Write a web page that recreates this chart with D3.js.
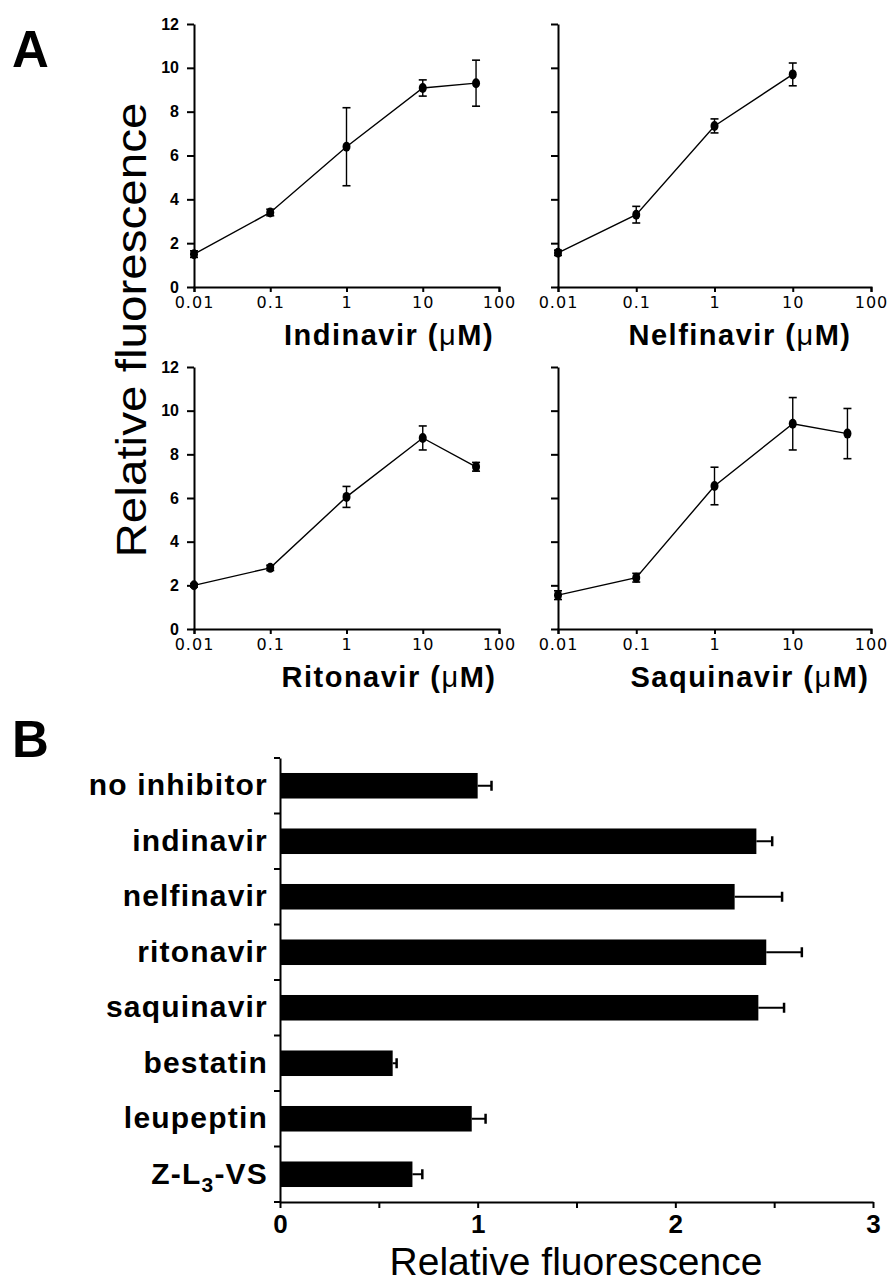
<!DOCTYPE html>
<html>
<head>
<meta charset="utf-8" />
<title>Protease inhibitors - relative fluorescence</title>
<script src="https://d3js.org/d3.v7.min.js"></script>
<style>
body { margin: 0; background: #fff; }
svg { display: block; font-family: "Liberation Sans", Arial, Helvetica, sans-serif; }
.axis path, .axis line { stroke: #000; stroke-width: 2; }
.axis text { fill: #000; }
</style>
</head>
<body>
<div id="chart"></div>
<script>
// ---- panel A: dose response, mean +/- error ----
var concentrations = [0.01, 0.1, 1, 10, 50];
var concTicks = [0.01, 0.1, 1, 10, 100];
var fluorTicks = [0, 2, 4, 6, 8, 10, 12];

var drugNames = ["Indinavir", "Nelfinavir", "Ritonavir", "Saquinavir"];
var indinavirMean = [1.5, 3.4, 6.4, 9.08, 9.3];
var indinavirErr = [0.15, 0.15, 1.78, 0.37, 1.05];
var nelfinavirMean = [1.56, 3.3, 7.35, 9.7, null];
var nelfinavirErr = [0.12, 0.38, 0.32, 0.52, null];
var ritonavirMean = [2.0, 2.8, 6.05, 8.75, 7.43];
var ritonavirErr = [0.08, 0.12, 0.48, 0.55, 0.2];
var saquinavirMean = [1.55, 2.35, 6.55, 9.4, 8.95];
var saquinavirErr = [0.2, 0.2, 0.86, 1.2, 1.15];

// ---- panel B: single dose, mean +/- error ----
var inhibitors = ["no inhibitor", "indinavir", "nelfinavir", "ritonavir", "saquinavir", "bestatin", "leupeptin", "Z-L3-VS"];
var inhibitorMean = [1.0, 2.41, 2.30, 2.46, 2.42, 0.57, 0.97, 0.67];
var inhibitorErr = [0.07, 0.08, 0.24, 0.18, 0.13, 0.02, 0.07, 0.05];
var barTicks = [0, 0.5, 1, 1.5, 2, 2.5, 3];

var width = 888;
var height = 1284;

var svg = d3.select("#chart").append("svg")
  .attr("width", width)
  .attr("height", height);

svg.append("rect").attr("width", width).attr("height", height).attr("fill", "#fff");

// layout of the four small panels
var layout = [
  { x0: 194, x1: 499, y0: 287, y1: 24, labels: true, titleX: 389, titleY: 345 },
  { x0: 558, x1: 871, y0: 287, y1: 24, labels: false, titleX: 740, titleY: 345 },
  { x0: 194, x1: 499, y0: 629, y1: 367, labels: true, titleX: 389, titleY: 687 },
  { x0: 558, x1: 871, y0: 629, y1: 367, labels: false, titleX: 750, titleY: 687 }
];
var means = [indinavirMean, nelfinavirMean, ritonavirMean, saquinavirMean];
var errs = [indinavirErr, nelfinavirErr, ritonavirErr, saquinavirErr];

function tickFmt(d) {
  return d < 1 ? String(d) : d3.format("d")(d);
}

layout.forEach(function (p, i) {
  var x = d3.scaleLog().domain([0.01, 100]).range([p.x0, p.x1]);
  var y = d3.scaleLinear().domain([0, 12]).range([p.y0, p.y1]);
  var g = svg.append("g");

  g.append("g")
    .attr("class", "axis")
    .attr("transform", "translate(0," + p.y0 + ")")
    .call(d3.axisBottom(x).tickValues(concTicks).tickFormat(tickFmt).tickSize(5).tickSizeOuter(5).tickPadding(5))
    .call(function (a) {
      a.selectAll("text").attr("font-size", 16).attr("letter-spacing", 1)
        .attr("font-family", "'DejaVu Sans', sans-serif");
    });

  g.append("g")
    .attr("class", "axis")
    .attr("transform", "translate(" + p.x0 + ",0)")
    .call(d3.axisLeft(y).tickValues(fluorTicks).tickSize(7).tickSizeOuter(0).tickPadding(8)
      .tickFormat(p.labels ? d3.format("d") : ""))
    .call(function (a) {
      a.selectAll("text").attr("font-size", 16).attr("font-weight", "bold");
    });

  var pts = concentrations.map(function (c, j) {
    return { c: c, m: means[i][j], e: errs[i][j] };
  }).filter(function (d) { return d.m !== null; });

  var line = d3.line().x(function (d) { return x(d.c); }).y(function (d) { return y(d.m); });

  g.append("path")
    .datum(pts)
    .attr("d", line)
    .attr("fill", "none")
    .attr("stroke", "#000")
    .attr("stroke-width", 1.4);

  var eb = g.selectAll(".eb").data(pts).join("g").attr("class", "eb");
  eb.append("line")
    .attr("x1", function (d) { return x(d.c); })
    .attr("x2", function (d) { return x(d.c); })
    .attr("y1", function (d) { return y(d.m - d.e); })
    .attr("y2", function (d) { return y(d.m + d.e); })
    .attr("stroke", "#000").attr("stroke-width", 1.4);
  [-1, 1].forEach(function (s) {
    eb.append("line")
      .attr("x1", function (d) { return x(d.c) - 4; })
      .attr("x2", function (d) { return x(d.c) + 4; })
      .attr("y1", function (d) { return y(d.m + s * d.e); })
      .attr("y2", function (d) { return y(d.m + s * d.e); })
      .attr("stroke", "#000").attr("stroke-width", 1.6);
  });
  eb.append("ellipse")
    .attr("cx", function (d) { return x(d.c); })
    .attr("cy", function (d) { return y(d.m); })
    .attr("rx", 4).attr("ry", 5)
    .attr("fill", "#000");

  var t = g.append("text")
    .attr("x", p.titleX)
    .attr("y", p.titleY)
    .attr("text-anchor", "middle")
    .attr("font-size", 29)
    .attr("font-weight", "bold")
    .attr("letter-spacing", 1.5);
  t.append("tspan").text(drugNames[i] + " (");
  t.append("tspan").attr("font-weight", "normal").text("\u03bc");
  t.append("tspan").text("M)");
});

// shared y title for panel A
svg.append("text")
  .attr("transform", "translate(146,330) rotate(-90)")
  .attr("text-anchor", "middle")
  .attr("font-size", 42)
  .attr("textLength", 455)
  .attr("lengthAdjust", "spacingAndGlyphs")
  .text("Relative fluorescence");

svg.append("text").attr("x", 12).attr("y", 67).attr("font-size", 51).attr("font-weight", "bold").text("A");
svg.append("text").attr("x", 12).attr("y", 757).attr("font-size", 51).attr("font-weight", "bold").text("B");

// ---- panel B ----
var bx = d3.scaleLinear().domain([0, 3]).range([280, 873]);
var by = d3.scaleBand().domain(inhibitors).range([758, 1202]);
var barH = by.bandwidth() * 0.46;

var gb = svg.append("g");

gb.append("g")
  .attr("class", "axis")
  .attr("transform", "translate(0,1202)")
  .call(d3.axisBottom(bx).tickValues(barTicks).tickSize(6).tickSizeOuter(0).tickPadding(7)
    .tickFormat(function (d) { return d % 1 === 0 ? d : ""; }))
  .call(function (a) {
    a.selectAll("text").attr("font-size", 26).attr("font-weight", "bold");
  });

gb.append("g")
  .attr("class", "axis")
  .attr("transform", "translate(280,0)")
  .call(d3.axisLeft(by).tickSize(0).tickPadding(12))
  .call(function (a) {
    a.selectAll("text").attr("font-size", 30).attr("font-weight", "bold").attr("letter-spacing", 1.2);
    a.selectAll(".tick text").filter(function (d) { return d === "Z-L3-VS"; })
      .text(null)
      .call(function (tx) {
        tx.append("tspan").text("Z-L");
        tx.append("tspan").attr("font-size", 21).attr("dy", 8).text("3");
        tx.append("tspan").attr("dy", -8).text("-VS");
      });
  });

// boundary ticks between categories
var bounds = inhibitors.map(function (d) { return by(d); }).concat([by.range()[1]]);
gb.selectAll(".bt").data(bounds).join("line")
  .attr("x1", 274).attr("x2", 280)
  .attr("y1", function (d) { return d; }).attr("y2", function (d) { return d; })
  .attr("stroke", "#000").attr("stroke-width", 2);

var bars = inhibitors.map(function (n, i) { return { n: n, m: inhibitorMean[i], e: inhibitorErr[i] }; });

gb.selectAll(".bar").data(bars).join("rect")
  .attr("x", bx(0))
  .attr("y", function (d) { return by(d.n) + (by.bandwidth() - barH) / 2; })
  .attr("width", function (d) { return bx(d.m) - bx(0); })
  .attr("height", barH)
  .attr("fill", "#000");

gb.selectAll(".berr").data(bars).join("line")
  .attr("x1", function (d) { return bx(d.m); })
  .attr("x2", function (d) { return bx(d.m + d.e); })
  .attr("y1", function (d) { return by(d.n) + by.bandwidth() / 2; })
  .attr("y2", function (d) { return by(d.n) + by.bandwidth() / 2; })
  .attr("stroke", "#000").attr("stroke-width", 2);

gb.selectAll(".bcap").data(bars).join("line")
  .attr("x1", function (d) { return bx(d.m + d.e); })
  .attr("x2", function (d) { return bx(d.m + d.e); })
  .attr("y1", function (d) { return by(d.n) + by.bandwidth() / 2 - 5; })
  .attr("y2", function (d) { return by(d.n) + by.bandwidth() / 2 + 5; })
  .attr("stroke", "#000").attr("stroke-width", 2.5);

svg.append("text")
  .attr("x", 576)
  .attr("y", 1275)
  .attr("text-anchor", "middle")
  .attr("font-size", 39)
  .text("Relative fluorescence");
</script>
</body>
</html>
